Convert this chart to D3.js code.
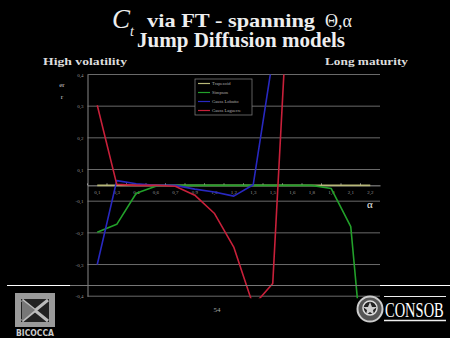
<!DOCTYPE html>
<html lang="en">
<head>
<meta charset="UTF-8">
<title>Ct via FT - Jump Diffusion</title>
<style>
  body { margin: 0; background: #000; }
  svg { display: block; }
</style>
</head>
<body>
<script src="https://d3js.org/d3.v7.min.js"></script>
<script>
// categories (alpha) and their axis labels
var alphas = [0.1, 0.25, 0.4, 0.55, 0.7, 0.85, 1.0, 1.15, 1.3, 1.45, 1.6, 1.75, 1.9, 2.05, 2.2];
var alphaLabels = ["0,1","0,3","0,4","0,6","0,7","0,9","1,0","1,2","1,3","1,5","1,6","1,8","1,9","2,1","2,2"];

// series values (error), null = off the chart
var trapezoid = [0, 0, 0, 0, 0, 0, 0, 0, 0, 0, 0, 0, 0, 0, 0];
var simpson   = [-0.148, -0.123, -0.025, -0.003, 0, 0, 0, 0, 0, 0, 0, 0, -0.01, -0.13, -0.8];
var lobatto   = [-0.25, 0.015, 0.005, 0, 0, -0.012, -0.021, -0.034, 0.002, 0.4, null, null, null, null, null];
var laguerre  = [0.253, 0.003, 0, 0, -0.003, -0.031, -0.088, -0.195, -0.38, -0.31, 0.85, null, null, null, null];

var seriesNames = ["Trapezoid", "Simpson", "Gauss Lobatto", "Gauss Laguerre"];

// y ticks sit on odd multiples of 0.05, Excel shows them rounded
var yTicks = [0.35, 0.25, 0.15, 0.05, -0.05, -0.15, -0.25, -0.35];
var yTickLabels = ["0,4","0,3","0,2","0,1","-0,1","-0,2","-0,3","-0,4"];

var W = 450, H = 338;
var svg = d3.select("body").append("svg")
    .attr("width", W).attr("height", H)
    .style("background", "#000");

var serif = "'Liberation Serif', 'DejaVu Serif', serif";

// ---- title ----
svg.append("text").attr("x", 112).attr("y", 28)
    .style("font-family", serif).style("font-style", "italic")
    .style("font-size", "27px").attr("fill", "#eee").text("C");
svg.append("text").attr("x", 130).attr("y", 36)
    .style("font-family", serif).style("font-style", "italic")
    .style("font-size", "14px").attr("fill", "#eee").text("t");
svg.append("text").attr("x", 147).attr("y", 27)
    .style("font-family", serif).style("font-weight", "bold")
    .style("font-size", "19px").attr("fill", "#eee")
    .attr("textLength", 168).attr("lengthAdjust", "spacingAndGlyphs")
    .text("via FT - spanning");
svg.append("text").attr("x", 325).attr("y", 27)
    .style("font-family", serif)
    .style("font-size", "18px").attr("fill", "#eee")
    .text("\u0398,\u03b1");
svg.append("text").attr("x", 137).attr("y", 47)
    .style("font-family", serif).style("font-weight", "bold")
    .style("font-size", "20px").attr("fill", "#eee")
    .attr("textLength", 208).attr("lengthAdjust", "spacingAndGlyphs")
    .text("Jump Diffusion models");
svg.append("text").attr("x", 43).attr("y", 65)
    .style("font-family", serif).style("font-weight", "bold")
    .style("font-size", "11px").attr("fill", "#ddd")
    .attr("textLength", 84).attr("lengthAdjust", "spacingAndGlyphs")
    .text("High volatility");
svg.append("text").attr("x", 325).attr("y", 65)
    .style("font-family", serif).style("font-weight", "bold")
    .style("font-size", "11px").attr("fill", "#ddd")
    .attr("textLength", 83).attr("lengthAdjust", "spacingAndGlyphs")
    .text("Long maturity");

// ---- chart ----
var pLeft = 87.5, pRight = 380, pTop = 74.5, pBottom = 296.2;
var x = d3.scaleBand().domain(alphas).range([pLeft, pRight]);
var y = d3.scaleLinear().domain([-0.35, 0.35]).range([pBottom, pTop]);
var cx = function(a) { return x(a) + x.bandwidth() / 2; };

// gridlines
svg.append("g").selectAll("line").data(yTicks).join("line")
    .attr("x1", pLeft).attr("x2", pRight)
    .attr("y1", function(d) { return y(d); }).attr("y2", function(d) { return y(d); })
    .attr("stroke", "#6a6a6a").attr("stroke-width", 1);

// y axis
var yAxis = svg.append("g").attr("transform", "translate(" + pLeft + ",0)")
    .call(d3.axisLeft(y).tickValues(yTicks).tickSize(0).tickPadding(4)
        .tickFormat(function(d, i) { return yTickLabels[i]; }));
yAxis.select(".domain").attr("stroke", "#888");
yAxis.selectAll("text").attr("fill", "#999").style("font-family", serif).style("font-size", "5px");

// x axis at 0
var xAxis = svg.append("g").attr("transform", "translate(0," + y(0) + ")")
    .call(d3.axisBottom(x).tickSize(0).tickPadding(5)
        .tickFormat(function(d, i) { return alphaLabels[i]; }));
xAxis.select(".domain").attr("stroke", "#999");
xAxis.selectAll("text").attr("fill", "#999").style("font-family", serif).style("font-size", "5px");
svg.append("g").selectAll("line").data(alphas).join("line")
    .attr("x1", function(d) { return x(d); }).attr("x2", function(d) { return x(d); })
    .attr("y1", y(0) - 2).attr("y2", y(0))
    .attr("stroke", "#999");

// axis titles
svg.append("text").attr("x", 62).attr("y", 87).attr("text-anchor", "middle")
    .style("font-family", serif).style("font-size", "7px").attr("fill", "#ccc").text("er");
svg.append("text").attr("x", 62).attr("y", 99).attr("text-anchor", "middle")
    .style("font-family", serif).style("font-size", "7px").attr("fill", "#ccc").text("r");
svg.append("text").attr("x", 370).attr("y", 208).attr("text-anchor", "middle")
    .style("font-family", serif).style("font-size", "11px").attr("fill", "#eee").text("\u03b1");

// clip to the plot area
svg.append("clipPath").attr("id", "plot")
    .append("rect").attr("x", pLeft).attr("y", pTop)
    .attr("width", pRight - pLeft).attr("height", pBottom - pTop + 2);

var colors = ["#b8b878", "#22a02a", "#2828c0", "#c8203a"];
var allSeries = [trapezoid, simpson, lobatto, laguerre];

var line = d3.line()
    .defined(function(d) { return d[1] !== null; })
    .x(function(d) { return cx(d[0]); })
    .y(function(d) { return y(d[1]); });

svg.append("g").attr("clip-path", "url(#plot)")
    .selectAll("path").data(allSeries).join("path")
    .attr("d", function(s) { return line(s.map(function(v, i) { return [alphas[i], v]; })); })
    .attr("fill", "none")
    .attr("stroke", function(s, i) { return colors[i]; })
    .attr("stroke-width", 1.6)
    .attr("stroke-linejoin", "round");

// legend
var lg = svg.append("g");
lg.append("rect").attr("x", 195).attr("y", 79).attr("width", 57).attr("height", 36)
    .attr("fill", "#000").attr("stroke", "#777").attr("stroke-width", 0.8);
var items = lg.selectAll("g.item").data(seriesNames).join("g").attr("class", "item")
    .attr("transform", function(d, i) { return "translate(0," + (83.5 + i * 9) + ")"; });
items.append("line").attr("x1", 198).attr("x2", 210)
    .attr("stroke", function(d, i) { return colors[i]; }).attr("stroke-width", 1.2);
items.append("text").attr("x", 212).attr("y", 1.6)
    .style("font-family", serif).style("font-size", "4.6px").attr("fill", "#aaa")
    .text(function(d) { return d; });

// ---- slide footer ----
svg.append("line").attr("x1", 7).attr("x2", 70).attr("y1", 285.5).attr("y2", 285.5)
    .attr("stroke", "#fff").attr("stroke-width", 1.2);
svg.append("line").attr("x1", 380).attr("x2", 450).attr("y1", 285.5).attr("y2", 285.5)
    .attr("stroke", "#fff").attr("stroke-width", 1.2);
svg.append("line").attr("x1", 70).attr("x2", 380).attr("y1", 285.5).attr("y2", 285.5)
    .attr("stroke", "#777").attr("stroke-width", 1);

svg.append("text").attr("x", 217).attr("y", 312).attr("text-anchor", "middle")
    .style("font-family", serif).style("font-size", "7px").attr("fill", "#aaa").text("54");

// Bicocca logo
var bl = svg.append("g");
bl.append("rect").attr("x", 15).attr("y", 293).attr("width", 40).attr("height", 34).attr("fill", "#9a9a9a");
bl.append("rect").attr("x", 21).attr("y", 299).attr("width", 28).attr("height", 23).attr("fill", "#222");
bl.append("path").attr("d", "M22,300 L48,321 M48,300 L22,321")
    .attr("stroke", "#bbb").attr("stroke-width", 3);
bl.append("path").attr("d", "M22,300 L35,310 L22,321 Z").attr("fill", "#777");
bl.append("text").attr("x", 35).attr("y", 336).attr("text-anchor", "middle")
    .style("font-family", "'DejaVu Sans', sans-serif").style("font-weight", "bold")
    .style("font-size", "8px").attr("fill", "#ccc")
    .attr("textLength", 38).attr("lengthAdjust", "spacingAndGlyphs").text("BICOCCA");

// CONSOB logo
var cl = svg.append("g");
cl.append("circle").attr("cx", 370).attr("cy", 309).attr("r", 12.5)
    .attr("fill", "#555").attr("stroke", "#ccc").attr("stroke-width", 2);
cl.append("circle").attr("cx", 370).attr("cy", 308).attr("r", 7)
    .attr("fill", "#222").attr("stroke", "#ddd").attr("stroke-width", 1.5);
cl.append("path").attr("d", "M370,302 L372,307 L377,307 L373,310 L374,315 L370,312 L366,315 L367,310 L363,307 L368,307 Z")
    .attr("fill", "#ccc");
cl.append("line").attr("x1", 384).attr("x2", 446).attr("y1", 296.5).attr("y2", 296.5)
    .attr("stroke", "#eee").attr("stroke-width", 1);
cl.append("line").attr("x1", 384).attr("x2", 446).attr("y1", 320.5).attr("y2", 320.5)
    .attr("stroke", "#eee").attr("stroke-width", 1.5);
// condensed by scaling instead of textLength
cl.append("g").attr("transform", "translate(385,317) scale(0.69,1)")
    .append("text").attr("x", 0).attr("y", 0)
    .style("font-family", serif).style("font-size", "21px").attr("fill", "#fff")
    .text("CONSOB");
</script>
</body>
</html>
